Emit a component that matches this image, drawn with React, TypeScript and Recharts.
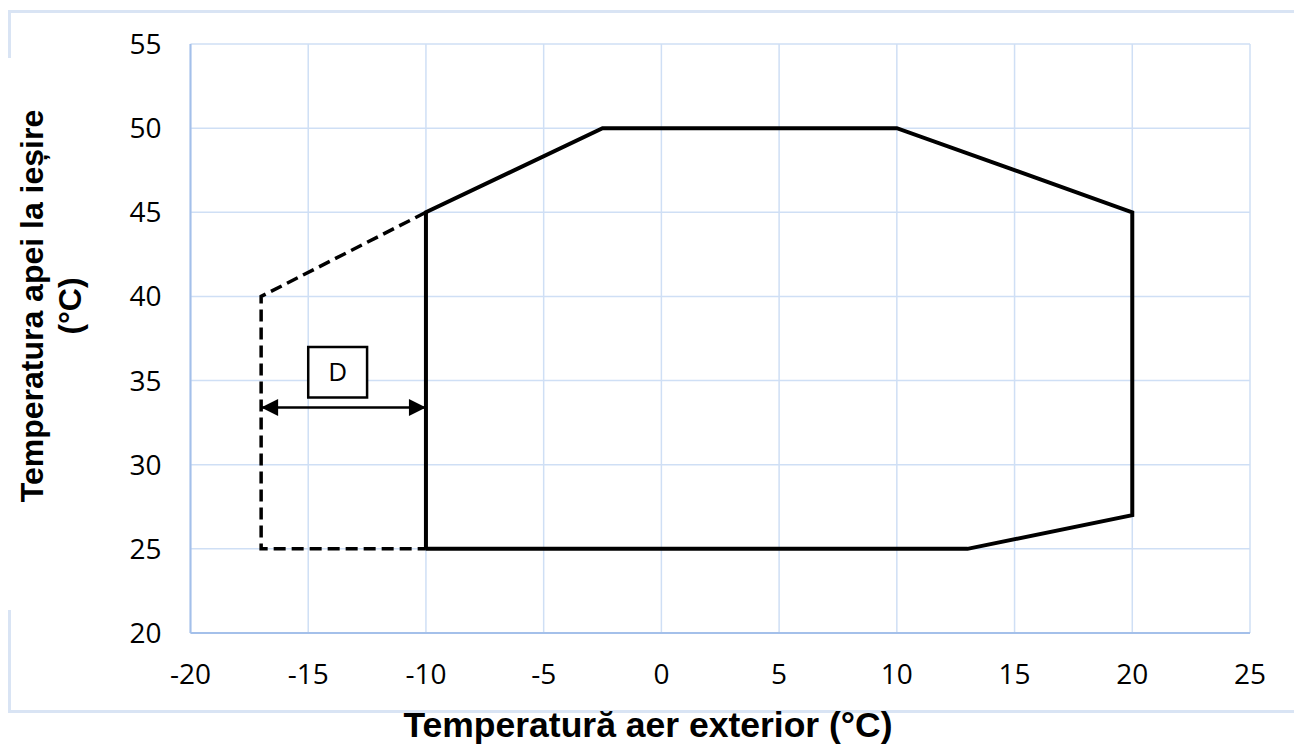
import React from "react";
import {
  LineChart,
  Line,
  XAxis,
  YAxis,
  CartesianGrid,
  ReferenceArea,
  Label,
} from "recharts";

// ---- data ----
const xTicks = [-20, -15, -10, -5, 0, 5, 10, 15, 20, 25];
const yTicks = [20, 25, 30, 35, 40, 45, 50, 55];

const solidX = [-10, -10, -2.5, 10, 20, 20, 13, -10];
const solidY = [25, 45, 50, 50, 45, 27, 25, 25];

const dashedX = [-10, -17, -17, -10];
const dashedY = [45, 40, 25, 25];

const arrowX = [-17, -10];
const arrowY = [33.4, 33.4];

const boxX = [-15, -12.5];
const boxY = [34, 37];
const boxLabel = "D";

const xTitle = "Temperatură aer exterior (°C)";
const yTitleLines = ["Temperatura apei la ieșire", "(°C)"];

const solidData = solidX.map((x, i) => ({ x, y: solidY[i] }));
const dashedData = dashedX.map((x, i) => ({ x, y: dashedY[i] }));
const arrowData = arrowX.map((x, i) => ({ x, y: arrowY[i] }));

const GRID = "#cfdff5";
const AXIS = "#a4c0ea";
const TICK_FONT = "'Open Sans', sans-serif";
const TITLE_FONT = "'Liberation Sans', Arial, sans-serif";

const ArrowHead = (props: any) => {
  const { cx, cy, index } = props;
  if (cx == null || cy == null) return null;
  const L = 17;
  const H = 8.5;
  const pts =
    index === 0
      ? `${cx},${cy} ${cx + L},${cy - H} ${cx + L},${cy + H}`
      : `${cx},${cy} ${cx - L},${cy - H} ${cx - L},${cy + H}`;
  return <polygon key={`ah-${index}`} points={pts} fill="#000" />;
};

const YTitle = (props: any) => {
  const cy = 298;
  return (
    <g>
      <text
        transform={`translate(35, ${cy}) rotate(-90)`}
        textAnchor="middle"
        fontFamily={TITLE_FONT}
        fontWeight="bold"
        fontSize={32}
        fill="#000"
      >
        {yTitleLines[0]}
      </text>
      <text
        transform={`translate(73, ${cy}) rotate(-90)`}
        textAnchor="middle"
        fontFamily={TITLE_FONT}
        fontWeight="bold"
        fontSize={32}
        fill="#000"
      >
        {yTitleLines[1]}
      </text>
    </g>
  );
};

const XTitle = (props: any) => {
  return (
    <text
      x={640}
      y={729}
      textAnchor="middle"
      fontFamily={TITLE_FONT}
      fontWeight="bold"
      fontSize={35.5}
      fill="#000"
    >
      {xTitle}
    </text>
  );
};

export default function App() {
  return (
    <div style={{ position: "relative", width: 1290, height: 739 }}>
      <div
        style={{
          position: "absolute",
          left: 0,
          top: 2,
          width: 1290,
          height: 703,
          border: "3px solid #d9e4f4",
          boxSizing: "border-box",
        }}
      />
      <div
        style={{
          position: "absolute",
          left: -2,
          top: 50,
          width: 8,
          height: 552,
          background: "#fff",
        }}
      />
      <div style={{ position: "absolute", left: 0, top: 0 }}>
        <LineChart
          width={1290}
          height={739}
          margin={{ top: 36, right: 48, bottom: 54, left: 122.5 }}
        >
          <CartesianGrid stroke={GRID} strokeWidth={1.5} />
          <XAxis
            dataKey="x"
            type="number"
            domain={[-20, 25]}
            ticks={xTicks}
            interval={0}
            allowDataOverflow
            height={60}
            tickSize={0}
            tickMargin={31}
            axisLine={{ stroke: AXIS, strokeWidth: 2 }}
            tick={{ fill: "#000", fontSize: 28, fontFamily: TICK_FONT }}
          >
            <Label content={<XTitle />} />
          </XAxis>
          <YAxis
            dataKey="y"
            type="number"
            domain={[20, 55]}
            ticks={yTicks}
            interval={0}
            allowDataOverflow
            width={60}
            tickSize={0}
            tickMargin={29}
            axisLine={{ stroke: AXIS, strokeWidth: 2 }}
            tick={{ fill: "#000", fontSize: 28, fontFamily: TICK_FONT }}
          >
            <Label content={<YTitle />} />
          </YAxis>
          <ReferenceArea
            x1={boxX[0]}
            x2={boxX[1]}
            y1={boxY[0]}
            y2={boxY[1]}
            fill="#fff"
            fillOpacity={1}
            stroke="#000"
            strokeWidth={2.5}
            ifOverflow="visible"
          >
            <Label
              value={boxLabel}
              position="center"
              fill="#000"
              fontSize={26}
              fontFamily={TICK_FONT}
            />
          </ReferenceArea>
          <Line
            data={dashedData}
            dataKey="y"
            type="linear"
            stroke="#000"
            strokeWidth={3.5}
            strokeDasharray="12 6"
            dot={false}
            activeDot={false}
            isAnimationActive={false}
          />
          <Line
            data={solidData}
            dataKey="y"
            type="linear"
            stroke="#000"
            strokeWidth={4}
            strokeLinejoin="miter"
            dot={false}
            activeDot={false}
            isAnimationActive={false}
          />
          <Line
            data={arrowData}
            dataKey="y"
            type="linear"
            stroke="#000"
            strokeWidth={2.5}
            dot={<ArrowHead />}
            activeDot={false}
            isAnimationActive={false}
          />
        </LineChart>
      </div>
    </div>
  );
}
